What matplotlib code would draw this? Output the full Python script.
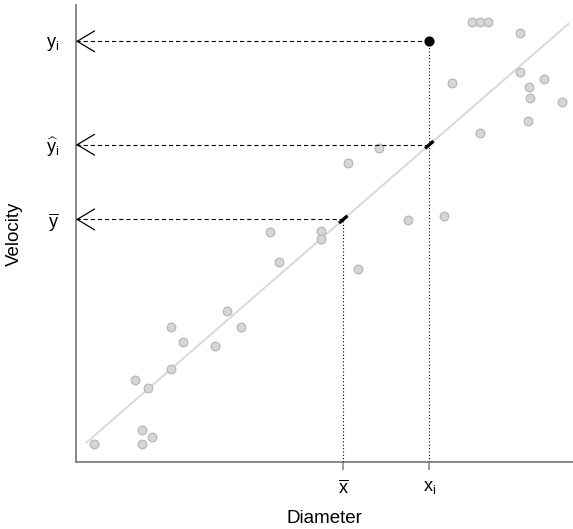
import numpy as np
import matplotlib
matplotlib.use('Agg')
from matplotlib import pyplot as plt

plt.rcParams['font.family'] = ['Liberation Sans', 'DejaVu Sans']
plt.rcParams['mathtext.fontset'] = 'custom'
plt.rcParams['mathtext.rm'] = 'Liberation Sans'
plt.rcParams['mathtext.it'] = 'Liberation Sans'

diameter = [1.8, 6.6, 6.6, 7.6, 5.9, 7.2, 9.5, 9.5, 10.7, 13.9, 15.1, 16.5,
            19.4, 20.3, 24.5, 24.5, 27.2, 28.2, 30.3, 33.2, 36.8, 37.6, 40.4,
            39.6, 40.4, 41.2, 44.4, 44.4, 45.3, 45.4, 46.8, 45.2, 48.6]
velocity = [1.8, 1.8, 3.2, 2.5, 8.2, 7.4, 9.3, 13.5, 12.0, 11.6, 15.1, 13.5,
            23.0, 20.0, 23.1, 22.3, 29.9, 19.3, 31.4, 24.2, 24.6, 37.9, 32.9,
            44.0, 44.0, 44.0, 42.9, 39.0, 37.5, 36.4, 38.3, 34.1, 36.0]

# fitted line and highlighted observation
fit_intercept = 1.04
fit_slope = 0.8686
fit_range = [1.07, 49.23]
x_mean = 26.73
x_i = 35.33
y_i = 42.07

def fitted(x):
    return fit_intercept + fit_slope * np.asarray(x)

y_mean = float(fitted(x_mean))
y_hat = float(fitted(x_i))

fig = plt.figure(figsize=(5.73, 5.29), dpi=100)
ax = fig.add_axes([76 / 573, 67 / 529, 1 - 76 / 573, (462 - 5) / 529])

xs = np.array(fit_range)
ax.plot(xs, fitted(xs), color='#d9d9d9', lw=1.4, zorder=1)
ax.plot(diameter, velocity, 'o', ms=6.3, mfc='#d6d6d6', mec='#b4b4b4',
        mew=0.8, zorder=2, clip_on=False)
ax.plot([x_i], [y_i], 'o', ms=6.3, color='black', zorder=4)

# guide lines
dash = (0, (3.8, 2.6))
for yv, xv in [(y_i, x_i), (y_hat, x_i), (y_mean, x_mean)]:
    ax.plot([0, xv], [yv, yv], color='black', lw=0.8, linestyle=dash, zorder=3)
    ax.annotate('', xy=(0, yv), xytext=(0.3, yv),
                arrowprops=dict(arrowstyle='->, head_length=1.25, head_width=0.75',
                                lw=0.9, color='black', shrinkA=0, shrinkB=0),
                annotation_clip=False)
ax.plot([x_i, x_i], [0, y_i], color='black', lw=0.8, linestyle=(0, (1, 2)), zorder=3)
ax.plot([x_mean, x_mean], [0, y_mean], color='black', lw=0.8,
        linestyle=(0, (1, 2)), zorder=3)

# short black marks on the fitted line
for xv in [x_mean, x_i]:
    seg = np.array([xv - 0.42, xv + 0.42])
    ax.plot(seg, fitted(seg), color='black', lw=2.4, solid_capstyle='butt', zorder=4)

ax.set_xlim(0, 49.7)
ax.set_ylim(0, 45.7)

for side in ['top', 'right']:
    ax.spines[side].set_visible(False)
for side in ['left', 'bottom']:
    ax.spines[side].set_color('#7f7f7f')
    ax.spines[side].set_linewidth(1.3)

ax.set_xticks([x_mean, x_i])
ax.set_xticklabels([r'$\mathregular{\overline{x}}$', r'$\mathregular{x_i}$'], fontsize=13)
ax.set_yticks([y_mean, y_hat, y_i])
ax.set_yticklabels([r'$\mathregular{\overline{y}}$', r'$\mathregular{\widehat{y}_i}$',
                    r'$\mathregular{y_i}$'], fontsize=13)
ax.tick_params(axis='x', length=5.5, width=1.1, color='#7f7f7f', pad=7)
ax.tick_params(axis='y', length=0, pad=12)

ax.set_xlabel('Diameter', fontsize=13.5, labelpad=9)
ax.set_ylabel('Velocity', fontsize=13.5, labelpad=17)

fig.savefig('out.png', dpi=100)
